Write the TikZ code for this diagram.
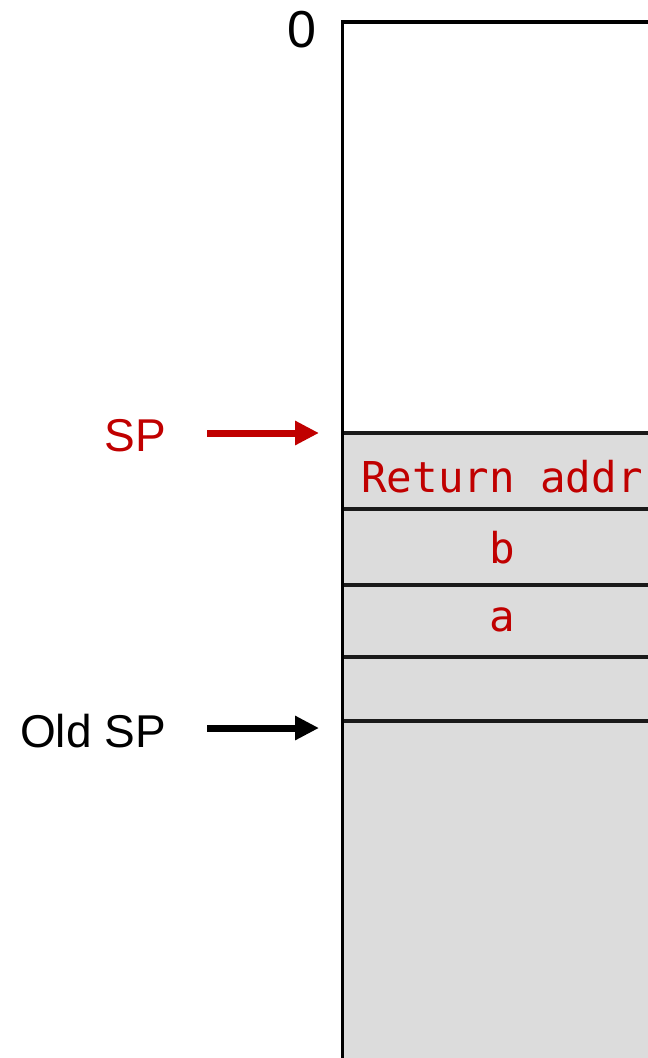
\documentclass[tikz,border=0pt]{standalone}
\usepackage{fontspec}
\setmainfont{Liberation Sans}
\newfontfamily\monofnt{DejaVu Sans Mono}
\usetikzlibrary{arrows.meta}
\definecolor{spred}{HTML}{C00000}
\definecolor{stackgray}{HTML}{DCDCDC}
\definecolor{sepline}{HTML}{1A1A1A}
\begin{document}
\begin{tikzpicture}[x=1pt,y=-1pt,
  lbl/.style={font=\fontsize{46}{46}\selectfont, inner sep=0pt},
  cell/.style={font=\monofnt\fontsize{42.5}{42.5}\selectfont, text=spred, inner sep=0pt},
  ptr/.style={line width=7pt, -{Triangle[length=24pt,width=23pt]}},
  sep/.style={draw=sepline, line width=3.2pt}]
\useasboundingbox (0,0) rectangle (648,1058);
% stack fill
\fill[stackgray] (342,433) rectangle (660,1070);
% separators
\foreach \yy in {433,509,585,657,721}
  \draw[sep] (342,\yy) -- (660,\yy);
% outer border
\draw[line width=3.6pt] (342.5,1070) -- (342.5,22) -- (660,22);
% texts
\node[lbl, anchor=center, font=\fontsize{52}{52}\selectfont] (zero) at (302,30) {0};
\node[lbl, anchor=east, text=spred] (sp) at (166,436) {SP};
\node[lbl, anchor=east] (oldsp) at (166,731) {Old SP};
\node[cell] (ret) at (502,477) {Return addr};
\node[cell] (b) at (502,548) {b};
\node[cell] (a) at (502,620) {a};
% arrows
\coordinate (spA) at (207,433);
\coordinate (spB) at (319,433);
\coordinate (oldA) at (207,728);
\coordinate (oldB) at (319,728);
\draw[ptr, spred] (spA) -- (spB);
\draw[ptr, black] (oldA) -- (oldB);
\end{tikzpicture}
\end{document}
